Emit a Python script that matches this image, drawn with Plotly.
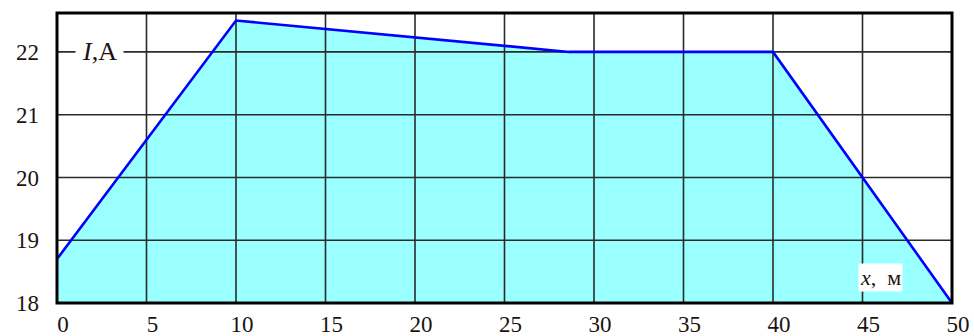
import plotly.graph_objects as go

# Current along the line, I (A) vs distance x (m)
x_m = [0, 10, 28.6, 40, 50]
current_a = [18.7, 22.5, 22.0, 22.0, 18.0]

x_ticks = [0, 5, 10, 15, 20, 25, 30, 35, 40, 45, 50]
y_ticks = [18, 19, 20, 21, 22]

X_RANGE = [0, 50]
Y_RANGE = [18, 22.62]

fig = go.Figure()

# shaded area under the curve
fig.add_trace(go.Scatter(
    x=x_m, y=current_a, mode="lines", fill="tozeroy",
    fillcolor="#99ffff", line=dict(width=0), hoverinfo="skip",
))

# grid drawn over the shading
gx, gy = [], []
for t in x_ticks:
    gx += [t, t, None]
    gy += [Y_RANGE[0], Y_RANGE[1], None]
for t in y_ticks:
    gx += [X_RANGE[0], X_RANGE[1], None]
    gy += [t, t, None]
fig.add_trace(go.Scatter(
    x=gx, y=gy, mode="lines", line=dict(color="#2a2a2a", width=1.6),
    hoverinfo="skip", cliponaxis=False,
))

# the curve itself
fig.add_trace(go.Scatter(
    x=x_m, y=current_a, mode="lines",
    line=dict(color="#0000ff", width=2.6),
))

font_serif = "Times New Roman"
tick_font = dict(family=font_serif, size=23, color="#1c1410")

fig.update_layout(
    width=974, height=336,
    margin=dict(l=57, r=22, t=13, b=33, autoexpand=False),
    paper_bgcolor="white", plot_bgcolor="white",
    showlegend=False,
    font=tick_font,
    xaxis=dict(
        range=X_RANGE, tickvals=x_ticks, showgrid=False, zeroline=False,
        ticks="", ticklabelshift=6, ticklabelstandoff=5, automargin=False,
        tickfont=tick_font,
    ),
    yaxis=dict(
        range=Y_RANGE, tickvals=y_ticks, showgrid=False, zeroline=False,
        ticks="", ticklabelstandoff=17, automargin=False,
        tickfont=tick_font,
    ),
    shapes=[dict(
        type="rect", xref="paper", yref="paper", x0=0, x1=1, y0=0, y1=1,
        line=dict(color="black", width=3), layer="above",
    )],
    annotations=[
        dict(
            x=2.4, y=22, xref="x", yref="y", xanchor="center", yanchor="middle",
            text="<i>I</i>,A", showarrow=False, bgcolor="white",
            font=dict(family=font_serif, size=26, color="#1c1410"),
            borderpad=6,
        ),
        dict(
            x=46.0, y=18.4, xref="x", yref="y", xanchor="center", yanchor="middle",
            text="<i>x</i>,  м", showarrow=False, bgcolor="white",
            font=dict(family=font_serif, size=22, color="#1c1410"),
            borderpad=1,
        ),
    ],
)

fig.write_html("out.html")
